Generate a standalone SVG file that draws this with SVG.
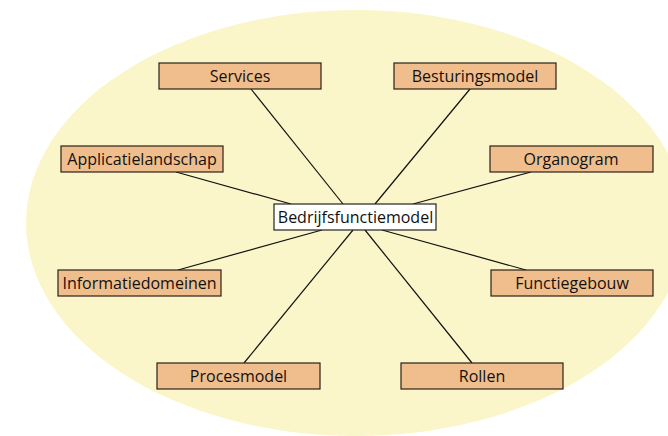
<svg xmlns="http://www.w3.org/2000/svg" width="668" height="436" viewBox="0 0 668 436">
<style>
.bg{fill:#faf6c9;}
.box{fill:#f0be8c;stroke:#2a2118;stroke-width:1.2;}
.center{fill:#ffffff;stroke:#222;stroke-width:1.2;}
.lbl{font-family:"Open Sans","Noto Sans",sans-serif;font-size:16px;fill:#111;text-anchor:middle;}
.conn line{stroke:#111;stroke-width:1.2;}
</style>
<rect x="0" y="0" width="668" height="436" fill="#ffffff"/>
<ellipse class="bg" cx="356" cy="223" rx="330" ry="213"/>
<g id="connectors" class="conn">
<line x1="251" y1="89" x2="343" y2="204"/>
<line x1="470" y1="89" x2="375" y2="204"/>
<line x1="176" y1="172" x2="291" y2="204"/>
<line x1="531" y1="172" x2="413" y2="204"/>
<line x1="178" y1="270" x2="322" y2="230"/>
<line x1="244" y1="363" x2="353" y2="230"/>
<line x1="472" y1="363" x2="365" y2="230"/>
<line x1="526" y1="270" x2="382" y2="230"/>
</g>
<g id="services"><rect class="box" x="159" y="63" width="162" height="26"/><text class="lbl" x="240" y="82">Services</text></g>
<g id="besturingsmodel"><rect class="box" x="394" y="63" width="162" height="26"/><text class="lbl" x="475" y="82">Besturingsmodel</text></g>
<g id="applicatielandschap"><rect class="box" x="61" y="146" width="162" height="26"/><text class="lbl" x="142" y="165">Applicatielandschap</text></g>
<g id="organogram"><rect class="box" x="490" y="146" width="163" height="26"/><text class="lbl" x="571" y="165">Organogram</text></g>
<g id="bedrijfsfunctiemodel"><rect class="center" x="274" y="204" width="162" height="26"/><text class="lbl" x="355.5" y="223">Bedrijfsfunctiemodel</text></g>
<g id="informatiedomeinen"><rect class="box" x="58" y="270" width="163" height="26"/><text class="lbl" x="139.5" y="289">Informatiedomeinen</text></g>
<g id="functiegebouw"><rect class="box" x="491" y="270" width="162" height="26"/><text class="lbl" x="572" y="289">Functiegebouw</text></g>
<g id="procesmodel"><rect class="box" x="157" y="363" width="163" height="26"/><text class="lbl" x="238.5" y="382">Procesmodel</text></g>
<g id="rollen"><rect class="box" x="401" y="363" width="162" height="26"/><text class="lbl" x="482" y="382">Rollen</text></g>
</svg>
